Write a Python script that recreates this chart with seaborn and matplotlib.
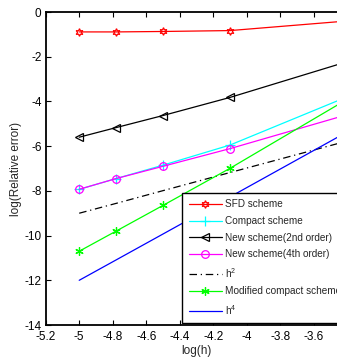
import matplotlib
matplotlib.use("Agg")
import matplotlib.pyplot as plt
import seaborn as sns
import pandas as pd

# log10 of the grid spacing
log_h = [-5.0, -4.78, -4.5, -4.1, -3.4]

# log of the relative error for each scheme
sfd_scheme = [-0.89, -0.89, -0.87, -0.83, -0.40]
compact_scheme = [-7.93, -7.45, -6.85, -5.95, -3.79]
new_2nd_order = [-5.60, -5.17, -4.63, -3.82, -2.22]
new_4th_order = [-7.93, -7.45, -6.90, -6.11, -4.59]
h2_reference = [-9.00, -8.56, -7.99, -7.18, -5.77]
modified_compact = [-10.70, -9.80, -8.65, -6.99, -3.90]
h4_reference = [-12.00, -11.09, -9.93, -8.27, -5.36]

labels = ["SFD scheme", "Compact scheme", "New scheme(2nd order)",
          "New scheme(4th order)", "h$^2$", "Modified compact scheme", "h$^4$"]

x_ticks = [-5.2, -5.0, -4.8, -4.6, -4.4, -4.2, -4.0, -3.8, -3.6]
x_tick_labels = ["-5.2", "-5", "-4.8", "-4.6", "-4.4", "-4.2", "-4", "-3.8", "-3.6"]
y_ticks = [0, -2, -4, -6, -8, -10, -12, -14]
y_tick_labels = ["0", "-2", "-4", "-6", "-8", "-10", "-12", "-14"]

sns.set_style("ticks")
plt.rcParams["font.family"] = ["Liberation Sans", "DejaVu Sans"]
plt.rcParams["mathtext.fontset"] = "custom"
plt.rcParams["mathtext.rm"] = "Liberation Sans"
plt.rcParams["mathtext.it"] = "Liberation Sans"

fig = plt.figure(figsize=(3.37, 3.61), dpi=100)
ax = fig.add_axes([0.1356, 0.0997, 0.895, 0.867])

series = [sfd_scheme, compact_scheme, new_2nd_order, new_4th_order,
          h2_reference, modified_compact, h4_reference]
frames = []
for name, vals in zip(labels, series):
    frames.append(pd.DataFrame({"log_h": log_h, "err": vals, "scheme": name}))
df = pd.concat(frames, ignore_index=True)

styles = {
    "SFD scheme": dict(color="#ff0000", marker=(6, 1, 0), ms=5.5, mfc="none", ls="-"),
    "Compact scheme": dict(color="#00ffff", marker="+", ms=7, mfc="none", ls="-"),
    "New scheme(2nd order)": dict(color="#000000", marker="<", ms=5.5, mfc="none", ls="-"),
    "New scheme(4th order)": dict(color="#ff00ff", marker="o", ms=5.5, mfc="none", ls="-"),
    "h$^2$": dict(color="#000000", marker=None, ls=(0, (6, 3, 1, 3))),
    "Modified compact scheme": dict(color="#00ff00", marker=(6, 2, 0), ms=6, mfc="none", ls="-"),
    "h$^4$": dict(color="#0000ff", marker=None, ls="-"),
}

for name in labels:
    st = styles[name]
    sub = df[df["scheme"] == name]
    kw = dict(color=st["color"], linestyle=st["ls"], linewidth=0.9, label=name)
    if st["marker"] is not None:
        kw.update(marker=st["marker"], markersize=st["ms"],
                  markerfacecolor=st["mfc"], markeredgecolor=st["color"],
                  markeredgewidth=0.9)
    sns.lineplot(data=sub, x="log_h", y="err", ax=ax, sort=False,
                 estimator=None, errorbar=None, **kw)

ax.set_xlim(-5.2, -3.4)
ax.set_ylim(-14, 0)
ax.set_xticks(x_ticks)
ax.set_xticklabels(x_tick_labels)
ax.set_yticks(y_ticks)
ax.set_yticklabels(y_tick_labels)
ax.tick_params(axis="both", direction="in", length=3.5, width=0.8,
               labelsize=8.5, colors="black", top=True, right=True)
ax.tick_params(axis="x", pad=4)
ax.tick_params(axis="y", pad=3)
for sp in ax.spines.values():
    sp.set_visible(True)
    sp.set_linewidth(1.3)
    sp.set_color("black")

ax.set_xlabel("log(h)", fontsize=8.5, labelpad=2)
ax.set_ylabel("log(Relative error)", fontsize=8.5, labelpad=2)

leg = ax.legend(loc="lower left", bbox_to_anchor=(0.452, 0.006),
                fontsize=7.2, frameon=True, fancybox=False, framealpha=1,
                edgecolor="black", borderpad=0.65, labelspacing=0.66,
                handlelength=3.3, handletextpad=0.3, borderaxespad=0)
leg.get_frame().set_linewidth(1.0)

fig.savefig("out.png", dpi=100)
